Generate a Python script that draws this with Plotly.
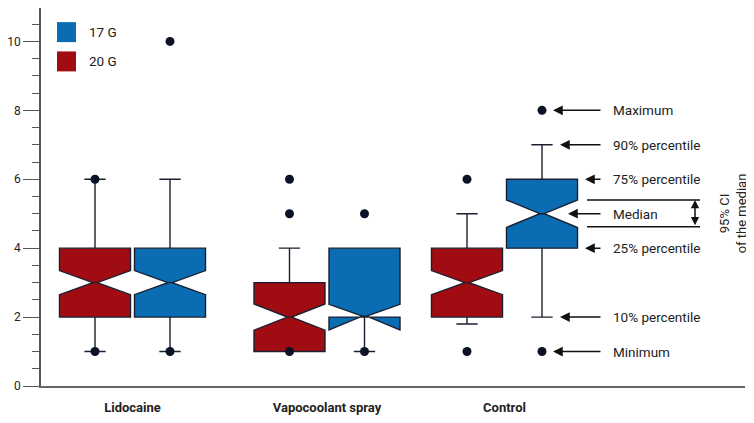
import plotly.graph_objects as go

# ---------------- data ----------------
groups = ["Lidocaine", "Vapocoolant spray", "Control"]

g20_q1 = [2, 1, 2]
g20_median = [3, 2, 3]
g20_q3 = [4, 3, 4]
g20_low = [1, 1, 1.8]
g20_high = [6, 4, 5]
g20_notch = [0.35, 0.38, 0.35]
g20_out_group = [0, 0, 1, 1, 1, 2, 2]
g20_out_val = [1, 6, 1, 5, 6, 1, 6]

g17_q1 = [2, 2, 4]
g17_median = [3, 2, 5]
g17_q3 = [4, 4, 6]
g17_low = [1, 1, 2]
g17_high = [6, 4, 7]
g17_notch = [0.35, 0.37, 0.4]
g17_out_group = [0, 0, 1, 1, 2, 2]
g17_out_val = [1, 10, 1, 5, 1, 8]

legend_names = ["17 G", "20 G"]
key_labels = ["Maximum", "90% percentile", "75% percentile", "Median",
              "25% percentile", "10% percentile", "Minimum"]
key_values = [8, 7, 6, 5, 4, 2, 1]

# ---------------- layout constants ----------------
RED = "#A00C12"
BLUE = "#0A6DB4"
DARK = "#1a2030"
DOT = "#0b1226"
FONT = "Roboto, Liberation Sans, sans-serif"

group_center = [132.5, 327, 504.5]
offset = 37.5
box_w = 71
x20 = [c - offset for c in group_center]
x17 = [c + offset for c in group_center]

fig = go.Figure()

box_common = dict(
    notched=True, notchwidth=0.47, whiskerwidth=0.3, width=box_w,
    boxpoints=False, line=dict(color=DARK, width=1.4), showlegend=False,
    hoverinfo="skip",
)
fig.add_trace(go.Box(
    x=x20, q1=g20_q1, median=g20_median, q3=g20_q3,
    lowerfence=g20_low, upperfence=g20_high, notchspan=g20_notch,
    fillcolor=RED, name="20 G", **box_common))
fig.add_trace(go.Box(
    x=x17, q1=g17_q1, median=g17_median, q3=g17_q3,
    lowerfence=g17_low, upperfence=g17_high, notchspan=g17_notch,
    fillcolor=BLUE, name="17 G", **box_common))

fig.add_trace(go.Scatter(
    x=[x20[g] for g in g20_out_group], y=g20_out_val, mode="markers",
    marker=dict(color=DOT, size=9), showlegend=False, hoverinfo="skip"))
fig.add_trace(go.Scatter(
    x=[x17[g] for g in g17_out_group], y=g17_out_val, mode="markers",
    marker=dict(color=DOT, size=9), showlegend=False, hoverinfo="skip"))

# ---------------- custom legend ----------------
shapes = []
annotations = []
leg_colors = [BLUE, RED]
leg_y = [10.27, 9.42]
for name, col, yc in zip(legend_names, leg_colors, leg_y):
    shapes.append(dict(type="rect", xref="x", yref="y", x0=57, x1=76,
                       y0=yc - 0.29, y1=yc + 0.29, fillcolor=col,
                       line=dict(width=0)))
    annotations.append(dict(x=87, y=yc, xref="x", yref="y", text=name,
                            showarrow=False, xanchor="left",
                            font=dict(size=13.5, color="#222", family=FONT)))

# ---------------- key (right side) ----------------
key_head_x = [553, 560, 585, 568, 585, 560, 553]
for lab, v, hx in zip(key_labels, key_values, key_head_x):
    annotations.append(dict(x=611, y=v, xref="x", yref="y", text=lab,
                            showarrow=False, xanchor="left",
                            font=dict(size=13.5, color="#222", family=FONT)))
    annotations.append(dict(x=hx, y=v, ax=602, ay=v, xref="x", yref="y",
                            axref="x", ayref="y", text="", showarrow=True,
                            arrowhead=2, arrowsize=1.3, arrowwidth=1.5,
                            arrowcolor="#111"))

ci_hi = 5.40
ci_lo = 4.62
for yv in (ci_hi, ci_lo):
    shapes.append(dict(type="line", xref="x", yref="y", x0=587, x1=700,
                       y0=yv, y1=yv, line=dict(color="#111", width=1.5)))
annotations.append(dict(x=695, y=ci_hi, ax=695, ay=ci_lo, xref="x", yref="y",
                        axref="x", ayref="y", text="", showarrow=True,
                        arrowhead=2, startarrowhead=2, arrowside="end+start",
                        arrowsize=1.1, arrowwidth=1.5, arrowcolor="#111"))
annotations.append(dict(x=733, y=(ci_hi + ci_lo) / 2, xref="x", yref="y",
                        text="95% CI<br>of the median", showarrow=False,
                        textangle=-90,
                        font=dict(size=13, color="#222", family=FONT)))

# page body adds an 8 px offset, so the figure is 8 px smaller on each axis
fig.update_layout(
    width=746, height=415,
    margin=dict(l=33, r=9, t=0, b=37),
    paper_bgcolor="white", plot_bgcolor="white",
    boxmode="overlay",
    shapes=shapes, annotations=annotations,
    font=dict(family=FONT, color="#222"),
    xaxis=dict(
        range=[41, 745], showgrid=False, zeroline=False, automargin=False,
        showline=True, linecolor="#666", linewidth=1.5,
        tickmode="array", tickvals=group_center, ticktext=groups,
        ticks="outside", ticklen=9, tickcolor="rgba(0,0,0,0)",
        tickfont=dict(size=13, color="#222", family=FONT, weight="bold"),
    ),
    yaxis=dict(
        range=[0, 10.97], showgrid=False, zeroline=False, automargin=False,
        showline=True, linecolor="#555", linewidth=1.5,
        tickmode="linear", tick0=0, dtick=2,
        ticks="outside", ticklen=16, tickwidth=1.3, tickcolor="#555",
        tickfont=dict(size=12, color="#222", family=FONT),
        minor=dict(dtick=0.5, tick0=0, ticks="outside", ticklen=7,
                   tickwidth=1.3, tickcolor="#555"),
    ),
)

fig.write_html("out.html")
